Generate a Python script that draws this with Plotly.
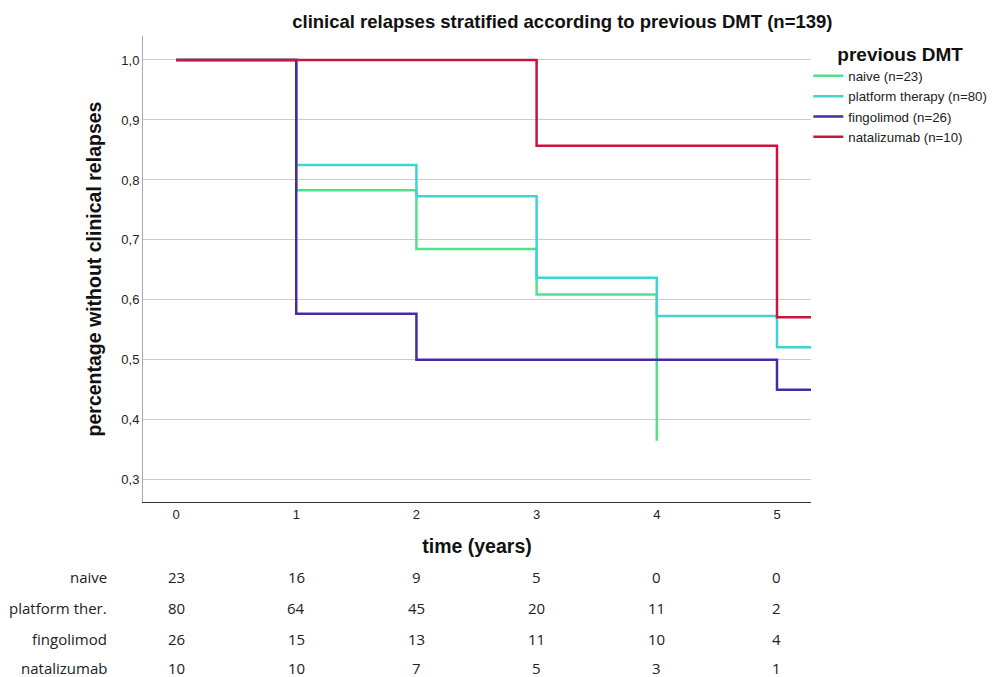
import plotly.graph_objects as go

# ---- data ----
series_names = ["naive (n=23)", "platform therapy (n=80)", "fingolimod (n=26)", "natalizumab (n=10)"]
colors = ["#52e08a", "#3fd3d3", "#4a2aa0", "#c8153f"]

naive_t = [0, 1, 2, 3, 4]
naive_s = [1.0, 0.783, 0.685, 0.609, 0.365]

platform_t = [0, 1, 2, 3, 4, 5, 5.4]
platform_s = [1.0, 0.825, 0.773, 0.637, 0.573, 0.521, 0.521]

fingolimod_t = [0, 1, 2, 5, 5.4]
fingolimod_s = [1.0, 0.577, 0.5, 0.45, 0.45]

natalizumab_t = [0, 3, 5, 5.4]
natalizumab_s = [1.0, 0.857, 0.571, 0.571]

risk_times = [0, 1, 2, 3, 4, 5]
risk_labels = ["naive", "platform ther.", "fingolimod", "natalizumab"]
risk_naive = [23, 16, 9, 5, 0, 0]
risk_platform = [80, 64, 45, 20, 11, 2]
risk_fingolimod = [26, 15, 13, 11, 10, 4]
risk_natalizumab = [10, 10, 7, 5, 3, 1]

y_ticks = [0.3, 0.4, 0.5, 0.6, 0.7, 0.8, 0.9, 1.0]
x_ticks = [0, 1, 2, 3, 4, 5]

# ---- figure ----
fig = go.Figure()
all_t = [naive_t, platform_t, fingolimod_t, natalizumab_t]
all_s = [naive_s, platform_s, fingolimod_s, natalizumab_s]
for name, col, t, s in zip(series_names, colors, all_t, all_s):
    fig.add_trace(go.Scatter(x=t, y=s, mode="lines", name=name,
                             line=dict(color=col, width=2.5, shape="hv")))

# risk table
risk_rows = [risk_naive, risk_platform, risk_fingolimod, risk_natalizumab]
row_y = [-0.161, -0.2275, -0.294, -0.3570]
tbl_font = dict(family="Open Sans, Liberation Sans, Arial", size=15, color="#222222")
for lab, row, yy in zip(risk_labels, risk_rows, row_y):
    fig.add_annotation(text=lab, xref="paper", yref="paper", x=-0.052, y=yy,
                       xanchor="right", yanchor="middle", showarrow=False, font=tbl_font,
                       borderpad=0)
    for t, v in zip(risk_times, row):
        fig.add_annotation(text=str(v), xref="x", yref="paper", x=t, y=yy,
                           xanchor="center", yanchor="middle", showarrow=False, font=tbl_font,
                           borderpad=0)

fig.update_layout(
    width=1006, height=677,
    margin=dict(l=143, r=195, t=36, b=175),
    paper_bgcolor="white", plot_bgcolor="white",
    separators=",.",
    font=dict(family="Liberation Sans, Arial", color="#222222"),
    title=dict(text="<b>clinical relapses stratified according to previous DMT (n=139)</b>",
               x=0.559, xanchor="center", y=0.968, yanchor="middle",
               font=dict(size=18.5, color="#111111")),
    xaxis=dict(range=[-0.275, 5.283], tickvals=x_ticks, tickformat="d",
               showgrid=False, zeroline=False, showline=True, linecolor="#333333",
               linewidth=1.2, ticks="", tickfont=dict(size=13, color="#222222"),
               title=dict(text="<b>time (years)</b>", font=dict(size=19.5, color="#111111"),
                          standoff=18)),
    yaxis=dict(range=[0.263, 1.04], tickvals=y_ticks, tickformat=".1f",
               showgrid=True, gridcolor="#cccccc", gridwidth=1, zeroline=False,
               showline=True, linecolor="#aaaaaa", linewidth=1,
               ticks="", tickfont=dict(size=13, color="#222222"),
               title=dict(text="<b>percentage without clinical relapses</b>",
                          font=dict(size=19.5, color="#111111"), standoff=14)),
    legend=dict(x=0.996, xanchor="left", y=1.0, yanchor="top",
                title=dict(text="<b>previous DMT</b>", font=dict(size=19, color="#111111"),
                           side="top center"),
                font=dict(size=13.3, color="#222222"), itemwidth=30, tracegroupgap=0,
                bgcolor="rgba(0,0,0,0)", borderwidth=0),
)

fig.write_html("out.html")
